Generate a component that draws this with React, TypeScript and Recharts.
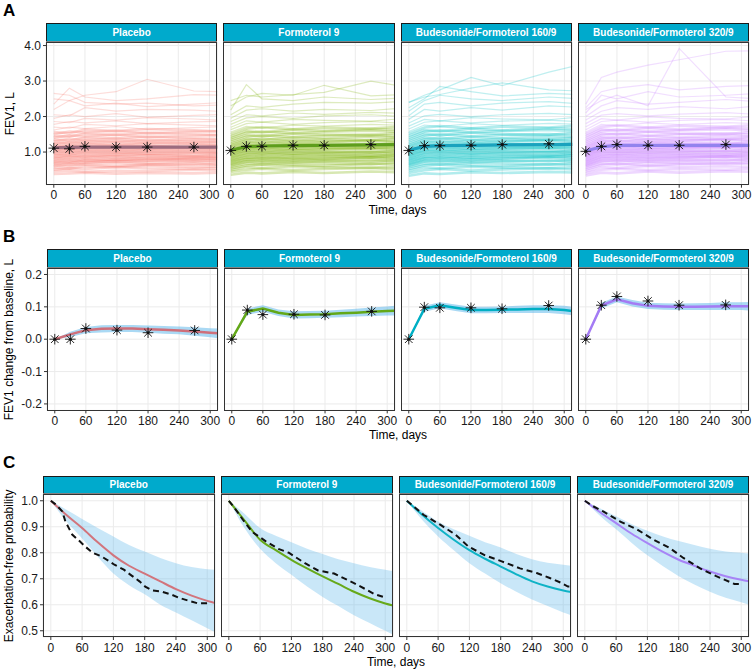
import React from "react"
import { ComposedChart, Line, Area, XAxis, YAxis, CartesianGrid } from "recharts"

const FONT = '"Liberation Sans", Arial, Helvetica, sans-serif'

const arms = ["Placebo", "Formoterol 9", "Budesonide/Formoterol 160/9", "Budesonide/Formoterol 320/9"]
const armColors = ["#F8766D", "#7CAE00", "#00BFC4", "#C77CFF"]
const meanColorsA = ["#9C6B7E", "#5E9E1C", "#1AA3BE", "#9383EE"]
const lineColorsB = ["#CF6F7A", "#63A818", "#00AFC4", "#A47BF4"]
const lineColorsC = ["#D2747C", "#66A91A", "#0FB3C6", "#A784F6"]

const xTicks = [0, 60, 120, 180, 240, 300]

// ---------- panel A: individual FEV1 trajectories ----------
const dayA = [0, 30, 60, 120, 180, 270, 330]

const placeboSubjects = [
  [0.38, 0.40, 0.42, 0.39, 0.41, 0.40, 0.42], [0.45, 0.48, 0.44, 0.47, 0.46, 0.50, 0.48],
  [0.50, 0.55, 0.52, 0.58, 0.54, 0.53, 0.55], [0.55, 0.53, 0.60, 0.57, 0.62, 0.58, 0.60],
  [0.60, 0.66, 0.64, 0.61, 0.65, 0.68, 0.63], [0.63, 0.60, 0.68, 0.70, 0.66, 0.64, 0.69],
  [0.67, 0.72, 0.70, 0.75, 0.71, 0.74, 0.72], [0.70, 0.68, 0.76, 0.73, 0.78, 0.75, 0.77],
  [0.73, 0.79, 0.75, 0.80, 0.76, 0.82, 0.79], [0.76, 0.74, 0.81, 0.78, 0.84, 0.80, 0.83],
  [0.80, 0.86, 0.83, 0.88, 0.82, 0.85, 0.87], [0.83, 0.81, 0.89, 0.85, 0.90, 0.88, 0.86],
  [0.86, 0.92, 0.88, 0.94, 0.91, 0.89, 0.93], [0.90, 0.88, 0.95, 0.92, 0.97, 0.94, 0.96],
  [0.93, 0.99, 0.96, 1.01, 0.95, 0.98, 1.00], [0.96, 0.94, 1.02, 0.99, 1.04, 1.01, 0.98],
  [1.00, 1.06, 1.03, 1.08, 1.02, 1.05, 1.07], [1.03, 1.01, 1.09, 1.06, 1.11, 1.08, 1.05],
  [1.06, 1.12, 1.10, 1.15, 1.09, 1.13, 1.11], [1.10, 1.08, 1.16, 1.13, 1.18, 1.12, 1.15],
  [1.14, 1.20, 1.17, 1.22, 1.16, 1.19, 1.21], [1.18, 1.16, 1.24, 1.20, 1.26, 1.23, 1.19],
  [1.22, 1.28, 1.25, 1.30, 1.24, 1.27, 1.29], [1.26, 1.24, 1.32, 1.29, 1.34, 1.30, 1.28],
  [1.30, 1.37, 1.33, 1.38, 1.31, 1.36, 1.34], [1.35, 1.32, 1.41, 1.38, 1.43, 1.39, 1.37],
  [1.40, 1.47, 1.44, 1.49, 1.42, 1.46, 1.48], [1.45, 1.43, 1.52, 1.48, 1.54, 1.50, 1.47],
  [1.50, 1.58, 1.55, 1.60, 1.53, 1.57, 1.59], [1.56, 1.53, 1.63, 1.59, 1.65, 1.61, 1.58],
  [1.62, 1.70, 1.66, 1.72, 1.64, 1.69, 1.71], [1.70, 1.67, 1.78, 1.74, 1.80, 1.76, 1.73],
  [1.78, 1.86, 1.82, 1.88, 1.80, 1.85, 1.87], [1.86, 1.83, 1.95, 1.90, 1.97, 1.93, 1.89],
  [1.95, 2.05, 2.00, 2.08, 1.98, 2.03, 2.06], [2.05, 2.02, 2.25, 2.15, 2.20, 2.18, 2.14],
  [2.20, 2.45, 2.30, 2.38, 2.28, 2.35, 2.40], [2.35, 2.80, 2.55, 2.45, 2.50, 2.62, 2.60],
  [2.50, 2.45, 2.60, 2.70, 3.05, 2.72, 2.70], [2.65, 2.60, 2.40, 2.35, 2.38, 2.30, 2.33],
]

const formoterolSubjects = [
  [0.36, 0.42, 0.40, 0.44, 0.41, 0.45, 0.43], [0.44, 0.50, 0.53, 0.49, 0.52, 0.55, 0.51],
  [0.49, 0.58, 0.55, 0.60, 0.57, 0.56, 0.59], [0.54, 0.62, 0.66, 0.63, 0.61, 0.67, 0.64],
  [0.58, 0.67, 0.64, 0.70, 0.68, 0.66, 0.71], [0.62, 0.72, 0.75, 0.71, 0.74, 0.78, 0.73],
  [0.65, 0.74, 0.71, 0.77, 0.75, 0.73, 0.79], [0.68, 0.79, 0.82, 0.78, 0.81, 0.84, 0.80],
  [0.71, 0.80, 0.78, 0.84, 0.80, 0.86, 0.83], [0.74, 0.85, 0.88, 0.83, 0.87, 0.85, 0.90],
  [0.77, 0.86, 0.84, 0.90, 0.88, 0.92, 0.89], [0.80, 0.92, 0.95, 0.91, 0.94, 0.90, 0.96],
  [0.83, 0.93, 0.91, 0.97, 0.95, 0.99, 0.94], [0.86, 0.98, 1.01, 0.96, 1.00, 1.03, 0.99],
  [0.89, 1.00, 0.97, 1.04, 1.01, 0.98, 1.05], [0.92, 1.05, 1.08, 1.03, 1.07, 1.10, 1.06],
  [0.95, 1.06, 1.04, 1.10, 1.08, 1.12, 1.09], [0.98, 1.11, 1.14, 1.09, 1.13, 1.11, 1.16],
  [1.01, 1.13, 1.10, 1.17, 1.14, 1.18, 1.15], [1.04, 1.18, 1.21, 1.16, 1.20, 1.23, 1.19],
  [1.08, 1.20, 1.17, 1.24, 1.21, 1.19, 1.26], [1.12, 1.26, 1.29, 1.24, 1.28, 1.31, 1.27],
  [1.16, 1.28, 1.25, 1.32, 1.29, 1.34, 1.30], [1.20, 1.34, 1.37, 1.32, 1.36, 1.33, 1.39],
  [1.24, 1.37, 1.34, 1.41, 1.38, 1.43, 1.40], [1.29, 1.43, 1.47, 1.42, 1.46, 1.49, 1.44],
  [1.34, 1.48, 1.44, 1.52, 1.49, 1.47, 1.54], [1.39, 1.54, 1.58, 1.53, 1.57, 1.60, 1.56],
  [1.44, 1.59, 1.55, 1.63, 1.60, 1.65, 1.62], [1.50, 1.66, 1.70, 1.64, 1.69, 1.66, 1.72],
  [1.56, 1.72, 1.68, 1.76, 1.73, 1.78, 1.75], [1.63, 1.80, 1.84, 1.78, 1.83, 1.86, 1.81],
  [1.70, 1.88, 1.84, 1.92, 1.89, 1.87, 1.94], [1.78, 1.96, 2.00, 1.95, 2.02, 2.05, 2.00],
  [1.86, 2.05, 2.02, 2.10, 2.06, 2.12, 2.09], [1.95, 2.18, 2.22, 2.15, 2.20, 2.17, 2.24],
  [2.05, 2.30, 2.26, 2.35, 2.40, 2.38, 2.42], [2.18, 2.90, 2.50, 2.45, 2.55, 2.48, 2.52],
  [2.30, 2.55, 2.65, 2.60, 2.88, 2.58, 2.62], [2.45, 2.60, 2.55, 2.62, 2.68, 3.00, 2.85],
]

const bf160Subjects = [
  [0.33, 0.40, 0.38, 0.43, 0.41, 0.44, 0.42], [0.41, 0.49, 0.52, 0.48, 0.51, 0.54, 0.50],
  [0.47, 0.57, 0.54, 0.59, 0.56, 0.55, 0.58], [0.52, 0.63, 0.66, 0.62, 0.60, 0.66, 0.63],
  [0.57, 0.67, 0.64, 0.70, 0.67, 0.65, 0.70], [0.61, 0.73, 0.76, 0.71, 0.74, 0.77, 0.72],
  [0.64, 0.75, 0.72, 0.78, 0.75, 0.74, 0.79], [0.67, 0.80, 0.83, 0.78, 0.82, 0.85, 0.80],
  [0.70, 0.82, 0.79, 0.85, 0.81, 0.87, 0.84], [0.73, 0.86, 0.89, 0.84, 0.88, 0.86, 0.91],
  [0.76, 0.88, 0.85, 0.91, 0.89, 0.93, 0.90], [0.79, 0.93, 0.96, 0.92, 0.95, 0.91, 0.97],
  [0.82, 0.95, 0.92, 0.98, 0.96, 1.00, 0.95], [0.85, 0.99, 1.02, 0.97, 1.01, 1.04, 1.00],
  [0.88, 1.02, 0.99, 1.05, 1.02, 0.99, 1.06], [0.91, 1.06, 1.09, 1.04, 1.08, 1.11, 1.07],
  [0.94, 1.08, 1.05, 1.11, 1.09, 1.13, 1.10], [0.97, 1.13, 1.16, 1.10, 1.14, 1.12, 1.17],
  [1.00, 1.15, 1.12, 1.18, 1.15, 1.19, 1.16], [1.04, 1.20, 1.23, 1.17, 1.21, 1.24, 1.20],
  [1.08, 1.23, 1.19, 1.26, 1.22, 1.20, 1.27], [1.12, 1.28, 1.31, 1.25, 1.29, 1.32, 1.28],
  [1.16, 1.31, 1.27, 1.34, 1.30, 1.35, 1.32], [1.20, 1.36, 1.40, 1.33, 1.37, 1.35, 1.41],
  [1.25, 1.40, 1.36, 1.43, 1.39, 1.44, 1.41], [1.30, 1.46, 1.50, 1.44, 1.48, 1.51, 1.46],
  [1.35, 1.51, 1.47, 1.55, 1.50, 1.48, 1.56], [1.40, 1.57, 1.61, 1.55, 1.59, 1.62, 1.58],
  [1.46, 1.62, 1.58, 1.66, 1.61, 1.67, 1.64], [1.52, 1.69, 1.73, 1.67, 1.72, 1.69, 1.75],
  [1.58, 1.76, 1.72, 1.80, 1.75, 1.81, 1.78], [1.65, 1.84, 1.88, 1.82, 1.87, 1.90, 1.85],
  [1.73, 1.92, 1.88, 1.97, 1.93, 1.91, 1.99], [1.82, 2.02, 2.06, 2.00, 2.05, 2.09, 2.04],
  [1.92, 2.20, 2.15, 2.25, 2.18, 2.30, 2.26], [2.02, 2.35, 2.40, 2.30, 2.38, 2.42, 2.36],
  [2.15, 2.45, 2.60, 2.50, 2.45, 2.55, 2.50], [2.25, 2.50, 2.85, 2.70, 2.58, 2.65, 2.62],
  [2.40, 2.55, 2.62, 2.80, 2.95, 2.75, 2.72], [2.40, 2.60, 2.75, 3.10, 2.87, 3.25, 3.46],
]

const bf320Subjects = [
  [0.34, 0.42, 0.40, 0.45, 0.42, 0.46, 0.44], [0.40, 0.50, 0.53, 0.49, 0.52, 0.50, 0.54],
  [0.46, 0.58, 0.55, 0.61, 0.58, 0.60, 0.57], [0.51, 0.64, 0.67, 0.62, 0.66, 0.69, 0.65],
  [0.55, 0.68, 0.65, 0.71, 0.68, 0.67, 0.72], [0.59, 0.74, 0.77, 0.73, 0.75, 0.79, 0.74],
  [0.62, 0.76, 0.73, 0.79, 0.77, 0.75, 0.81], [0.65, 0.81, 0.84, 0.80, 0.83, 0.86, 0.82],
  [0.68, 0.83, 0.80, 0.86, 0.83, 0.88, 0.85], [0.71, 0.87, 0.91, 0.86, 0.89, 0.87, 0.92],
  [0.74, 0.90, 0.87, 0.93, 0.90, 0.94, 0.91], [0.77, 0.94, 0.97, 0.93, 0.96, 0.93, 0.99],
  [0.80, 0.97, 0.94, 1.00, 0.97, 1.01, 0.97], [0.83, 1.01, 1.04, 0.99, 1.03, 1.06, 1.01],
  [0.86, 1.04, 1.01, 1.07, 1.04, 1.02, 1.08], [0.89, 1.08, 1.11, 1.06, 1.10, 1.13, 1.09],
  [0.92, 1.10, 1.07, 1.13, 1.11, 1.15, 1.12], [0.95, 1.15, 1.18, 1.13, 1.16, 1.14, 1.19],
  [0.98, 1.17, 1.14, 1.20, 1.17, 1.21, 1.18], [1.02, 1.22, 1.25, 1.19, 1.23, 1.26, 1.22],
  [1.06, 1.25, 1.21, 1.28, 1.24, 1.22, 1.29], [1.10, 1.30, 1.33, 1.27, 1.31, 1.34, 1.30],
  [1.14, 1.33, 1.29, 1.36, 1.32, 1.37, 1.34], [1.18, 1.38, 1.42, 1.35, 1.39, 1.37, 1.43],
  [1.23, 1.42, 1.38, 1.45, 1.41, 1.46, 1.43], [1.28, 1.48, 1.52, 1.46, 1.50, 1.53, 1.48],
  [1.33, 1.53, 1.49, 1.57, 1.52, 1.50, 1.58], [1.38, 1.59, 1.63, 1.57, 1.61, 1.64, 1.60],
  [1.44, 1.64, 1.60, 1.68, 1.63, 1.69, 1.66], [1.50, 1.71, 1.75, 1.69, 1.74, 1.71, 1.77],
  [1.56, 1.78, 1.74, 1.82, 1.77, 1.83, 1.80], [1.63, 1.86, 1.90, 1.84, 1.89, 1.92, 1.87],
  [1.71, 1.94, 1.90, 1.99, 1.95, 1.93, 2.01], [1.80, 2.04, 2.08, 2.02, 2.07, 2.11, 2.06],
  [1.90, 2.15, 2.25, 2.20, 2.28, 2.22, 2.30], [2.00, 2.30, 2.45, 2.35, 2.40, 2.48, 2.42],
  [2.10, 2.60, 2.50, 2.70, 2.55, 2.60, 2.65], [2.25, 2.70, 2.80, 2.90, 2.75, 2.85, 2.88],
  [2.20, 2.45, 2.60, 2.30, 3.92, 2.55, 2.50], [2.35, 3.10, 3.25, 3.45, 3.60, 3.84, 3.85],
]

const subjectsA = [placeboSubjects, formoterolSubjects, bf160Subjects, bf320Subjects]

const meanA = [
  [1.12, 1.13, 1.14, 1.14, 1.14, 1.14, 1.14],
  [1.05, 1.15, 1.17, 1.18, 1.19, 1.20, 1.21],
  [1.05, 1.16, 1.18, 1.19, 1.20, 1.21, 1.22],
  [1.03, 1.15, 1.19, 1.19, 1.19, 1.19, 1.19],
]
const lowA = [
  [1.09, 1.10, 1.11, 1.11, 1.11, 1.11, 1.11],
  [1.02, 1.12, 1.14, 1.15, 1.16, 1.17, 1.18],
  [1.02, 1.13, 1.15, 1.16, 1.17, 1.18, 1.19],
  [1.00, 1.12, 1.16, 1.16, 1.16, 1.16, 1.16],
]
const highA = [
  [1.15, 1.16, 1.17, 1.17, 1.17, 1.17, 1.17],
  [1.08, 1.18, 1.20, 1.21, 1.22, 1.23, 1.24],
  [1.08, 1.19, 1.21, 1.22, 1.23, 1.24, 1.25],
  [1.06, 1.18, 1.22, 1.22, 1.22, 1.22, 1.22],
]
const obsDays = [0, 30, 60, 120, 180, 270]
const obsA = [
  [1.11, 1.09, 1.16, 1.14, 1.14, 1.14],
  [1.045, 1.16, 1.16, 1.19, 1.19, 1.21],
  [1.045, 1.18, 1.18, 1.19, 1.21, 1.23],
  [1.02, 1.16, 1.21, 1.19, 1.19, 1.21],
]

// ---------- panel B: change from baseline ----------
const dayModel = [0, 30, 60, 90, 120, 150, 180, 210, 240, 270, 300, 315]
const meanB = [
  [0, 0.015, 0.028, 0.032, 0.033, 0.033, 0.031, 0.029, 0.027, 0.024, 0.020, 0.018],
  [0, 0.085, 0.095, 0.082, 0.075, 0.076, 0.077, 0.080, 0.082, 0.085, 0.087, 0.088],
  [0, 0.094, 0.105, 0.097, 0.090, 0.090, 0.091, 0.092, 0.093, 0.093, 0.090, 0.087],
  [0, 0.104, 0.123, 0.111, 0.103, 0.101, 0.100, 0.100, 0.101, 0.102, 0.102, 0.102],
]
const lowB = [
  [0, 0.007, 0.018, 0.021, 0.022, 0.022, 0.020, 0.017, 0.015, 0.011, 0.006, 0.003],
  [0, 0.075, 0.085, 0.072, 0.064, 0.065, 0.066, 0.068, 0.070, 0.072, 0.073, 0.073],
  [0, 0.085, 0.096, 0.087, 0.080, 0.080, 0.081, 0.081, 0.081, 0.081, 0.077, 0.074],
  [0, 0.095, 0.114, 0.101, 0.093, 0.091, 0.090, 0.090, 0.090, 0.090, 0.090, 0.089],
]
const highB = [
  [0, 0.023, 0.038, 0.043, 0.044, 0.044, 0.042, 0.041, 0.039, 0.037, 0.034, 0.033],
  [0, 0.095, 0.105, 0.092, 0.086, 0.087, 0.088, 0.091, 0.094, 0.098, 0.101, 0.103],
  [0, 0.103, 0.114, 0.107, 0.100, 0.100, 0.101, 0.103, 0.105, 0.105, 0.103, 0.100],
  [0, 0.113, 0.132, 0.121, 0.113, 0.111, 0.110, 0.111, 0.112, 0.114, 0.114, 0.115],
]
const obsB = [
  [0, 0, 0.033, 0.028, 0.020, 0.027],
  [0, 0.090, 0.076, 0.077, 0.075, 0.086],
  [0, 0.099, 0.097, 0.097, 0.094, 0.104],
  [0, 0.105, 0.132, 0.118, 0.105, 0.106],
]

// ---------- panel C: exacerbation-free probability ----------
const meanC = [
  [1, 0.945, 0.895, 0.840, 0.790, 0.750, 0.720, 0.690, 0.660, 0.635, 0.615, 0.607],
  [1, 0.925, 0.850, 0.810, 0.773, 0.740, 0.709, 0.680, 0.650, 0.625, 0.605, 0.597],
  [1, 0.945, 0.895, 0.850, 0.810, 0.777, 0.747, 0.717, 0.690, 0.670, 0.655, 0.649],
  [1, 0.955, 0.914, 0.873, 0.837, 0.803, 0.773, 0.750, 0.728, 0.710, 0.696, 0.690],
]
const lowC = [
  [1, 0.920, 0.855, 0.785, 0.720, 0.675, 0.640, 0.600, 0.570, 0.540, 0.510, 0.495],
  [1, 0.895, 0.815, 0.760, 0.715, 0.670, 0.630, 0.595, 0.560, 0.530, 0.500, 0.485],
  [1, 0.925, 0.863, 0.810, 0.760, 0.720, 0.683, 0.650, 0.620, 0.595, 0.570, 0.560],
  [1, 0.940, 0.890, 0.838, 0.790, 0.748, 0.710, 0.678, 0.650, 0.627, 0.610, 0.600],
]
const highC = [
  [1, 0.965, 0.930, 0.895, 0.863, 0.830, 0.805, 0.780, 0.760, 0.745, 0.737, 0.735],
  [1, 0.950, 0.895, 0.865, 0.840, 0.815, 0.795, 0.775, 0.760, 0.745, 0.735, 0.730],
  [1, 0.960, 0.920, 0.890, 0.865, 0.840, 0.820, 0.795, 0.775, 0.762, 0.754, 0.750],
  [1, 0.970, 0.940, 0.910, 0.885, 0.863, 0.845, 0.830, 0.815, 0.805, 0.800, 0.797],
]
const kmDays = [
  [0, 10, 22, 28, 41, 55, 66, 80, 97, 110, 122, 140, 153, 170, 181, 195, 212, 230, 247, 265, 281, 300],
  [0, 10, 27, 45, 71, 95, 115, 146, 171, 202, 240, 262, 280, 300],
  [0, 15, 32, 64, 93, 118, 150, 182, 217, 249, 274, 295, 309, 315],
  [0, 15, 36, 68, 100, 132, 163, 189, 221, 252, 287, 300],
]
const kmValues = [
  [1, 0.985, 0.959, 0.92, 0.87, 0.845, 0.824, 0.80, 0.786, 0.77, 0.754, 0.735, 0.715, 0.69, 0.67, 0.655, 0.651, 0.64, 0.626, 0.615, 0.606, 0.606],
  [1, 0.975, 0.927, 0.88, 0.844, 0.815, 0.80, 0.76, 0.732, 0.72, 0.683, 0.66, 0.64, 0.628],
  [1, 0.975, 0.946, 0.908, 0.87, 0.824, 0.79, 0.767, 0.74, 0.722, 0.703, 0.685, 0.67, 0.67],
  [1, 0.98, 0.958, 0.92, 0.89, 0.85, 0.818, 0.78, 0.74, 0.71, 0.68, 0.68],
]

// ---------- layout ----------
const GAP = 6
const PAD_TOP = 8
const PAD_RIGHT = 14
const rows = [
  { stripTop: 23.3, plotTop: 42.3, h: 142.7, left: 46, w: 171.25 },
  { stripTop: 249.3, plotTop: 268.3, h: 142.4, left: 47, w: 171 },
  { stripTop: 475.7, plotTop: 494.3, h: 143, left: 42.7, w: 172.1 },
]

const fmt1 = (v: number) => v.toFixed(1)

const renderStar = (props: any) => {
  const { cx, cy, value, index } = props
  if (value == null || cx == null || cy == null || Number.isNaN(cy)) return <g key={`n${index}`} />
  const r = 5.3
  const d = r * 0.72
  return (
    <g key={`s${index}`} stroke="#111" strokeWidth={0.9}>
      <line x1={cx - r} y1={cy} x2={cx + r} y2={cy} />
      <line x1={cx} y1={cy - r} x2={cx} y2={cy + r} />
      <line x1={cx - d} y1={cy - d} x2={cx + d} y2={cy + d} />
      <line x1={cx - d} y1={cy + d} x2={cx + d} y2={cy - d} />
      <circle cx={cx} cy={cy} r={1.5} fill="#111" stroke="none" />
    </g>
  )
}

function tableA(k: number) {
  return dayA.map((day, j) => {
    const row: any = { day, m: meanA[k][j], band: [lowA[k][j], highA[k][j]] }
    if (j < obsDays.length) row.obs = obsA[k][j]
    subjectsA[k].forEach((s, n) => (row["s" + n] = s[j]))
    return row
  })
}

function tableB(k: number) {
  return dayModel.map((day, j) => {
    const row: any = { day, m: meanB[k][j], band: [lowB[k][j], highB[k][j]] }
    const o = obsDays.indexOf(day)
    if (o >= 0) row.obs = obsB[k][o]
    return row
  })
}

function tableC(k: number) {
  return dayModel.map((day, j) => ({ day, m: meanC[k][j], band: [lowC[k][j], highC[k][j]] }))
}

function kmData(k: number) {
  return kmDays[k].map((day, j) => ({ day, km: kmValues[k][j] }))
}

function Panel({ row, i, data, yDomain, yTicks, children }: any) {
  const left = row.left + i * (row.w + GAP)
  const axisW = i === 0 ? 40 : 0
  return (
    <>
      <div
        style={{
          position: "absolute", left, top: row.stripTop, width: row.w, height: row.plotTop - row.stripTop,
          background: "#00AACC", border: "1px solid #1a1a1a", boxSizing: "border-box", color: "#fff",
          fontFamily: FONT, fontWeight: "bold", fontSize: 10, display: "flex", alignItems: "center",
          justifyContent: "center", whiteSpace: "nowrap",
        }}
      >
        {arms[i]}
      </div>
      <div style={{ position: "absolute", left: left - axisW, top: row.plotTop - PAD_TOP }}>
        <ComposedChart
          width={row.w + axisW + PAD_RIGHT} height={row.h + 20 + PAD_TOP} data={data}
          margin={{ top: PAD_TOP, right: PAD_RIGHT, bottom: 0, left: 0 }}
        >
          <CartesianGrid stroke="#EBEBEB" strokeWidth={1} />
          <XAxis
            type="number" dataKey="day" domain={[-15, 315]} ticks={xTicks} allowDataOverflow interval={0}
            height={20} tickSize={3} tickMargin={3} axisLine={false} tickLine={{ stroke: "#333" }}
            tick={{ fontSize: 12, fill: "#1a1a1a", fontFamily: FONT }}
          />
          {i === 0 ? (
            <YAxis
              type="number" domain={yDomain} ticks={yTicks} allowDataOverflow interval={0} width={axisW}
              tickSize={3} tickMargin={2} axisLine={false} tickLine={{ stroke: "#333" }} tickFormatter={fmt1}
              tick={{ fontSize: 12, fill: "#1a1a1a", fontFamily: FONT }}
            />
          ) : (
            <YAxis type="number" domain={yDomain} ticks={yTicks} allowDataOverflow hide />
          )}
          {children}
        </ComposedChart>
      </div>
      <div
        style={{
          position: "absolute", left, top: row.plotTop, width: row.w, height: row.h,
          border: "1px solid #333", boxSizing: "border-box", pointerEvents: "none",
        }}
      />
    </>
  )
}

export default function App() {
  return (
    <div
      style={{
        position: "absolute", left: 0, top: 0, width: 752, height: 671, overflow: "hidden",
        background: "#fff", fontFamily: FONT,
      }}
    >
      {arms.map((_, k) => (
        <Panel key={"a" + k} row={rows[0]} i={k} data={tableA(k)} yDomain={[0.08, 4.1]} yTicks={[1, 2, 3, 4]}>
          {subjectsA[k].map((_s, n) => (
            <Line
              key={"s" + n} dataKey={"s" + n} stroke={armColors[k]}
              strokeOpacity={n < 30 ? 0.3 : 0.25} strokeWidth={n < 30 ? 2.6 : 1.2}
              dot={false} activeDot={false} isAnimationActive={false}
            />
          ))}
          <Area dataKey="band" stroke="none" fill="#56B4E9" fillOpacity={0.5} isAnimationActive={false} />
          <Line dataKey="m" stroke={meanColorsA[k]} strokeWidth={3.2} dot={false} activeDot={false} isAnimationActive={false} />
          <Line dataKey="obs" stroke="none" dot={renderStar} activeDot={false} isAnimationActive={false} />
        </Panel>
      ))}

      {arms.map((_, k) => (
        <Panel key={"b" + k} row={rows[1]} i={k} data={tableB(k)} yDomain={[-0.22, 0.22]} yTicks={[-0.2, -0.1, 0, 0.1, 0.2]}>
          <Area dataKey="band" stroke="none" fill="#56B4E9" fillOpacity={0.5} isAnimationActive={false} />
          <Line dataKey="m" stroke={lineColorsB[k]} strokeWidth={2.5} dot={false} activeDot={false} isAnimationActive={false} />
          <Line dataKey="obs" stroke="none" dot={renderStar} activeDot={false} isAnimationActive={false} />
        </Panel>
      ))}

      {arms.map((_, k) => (
        <Panel key={"c" + k} row={rows[2]} i={k} data={tableC(k)} yDomain={[0.476, 1.026]} yTicks={[0.5, 0.6, 0.7, 0.8, 0.9, 1.0]}>
          <Area type="monotone" dataKey="band" stroke="none" fill="#56B4E9" fillOpacity={0.32} isAnimationActive={false} />
          <Line type="monotone" dataKey="m" stroke={lineColorsC[k]} strokeWidth={2} dot={false} activeDot={false} isAnimationActive={false} />
          <Line
            data={kmData(k)} dataKey="km" stroke="#111" strokeWidth={2} strokeDasharray="6 4"
            dot={false} activeDot={false} isAnimationActive={false}
          />
        </Panel>
      ))}

      <svg width={752} height={671} style={{ position: "absolute", left: 0, top: 0, pointerEvents: "none" }}>
        <g fontFamily={FONT} fontWeight="bold" fontSize={17} fill="#000">
          <text x={3} y={16}>A</text>
          <text x={3} y={242}>B</text>
          <text x={3} y={468}>C</text>
        </g>
        <g fontFamily={FONT} fontSize={12} fill="#000" textAnchor="middle">
          <text transform="translate(14,113.7) rotate(-90)">FEV1, L</text>
          <text transform="translate(13,339.5) rotate(-90)">FEV1 change from baseline, L</text>
          <text transform="translate(12.5,565.8) rotate(-90)">Exacerbation-free probability</text>
          <text x={397.5} y={213.6}>Time, days</text>
          <text x={398} y={439.3}>Time, days</text>
          <text x={396} y={665.9}>Time, days</text>
        </g>
      </svg>
    </div>
  )
}
